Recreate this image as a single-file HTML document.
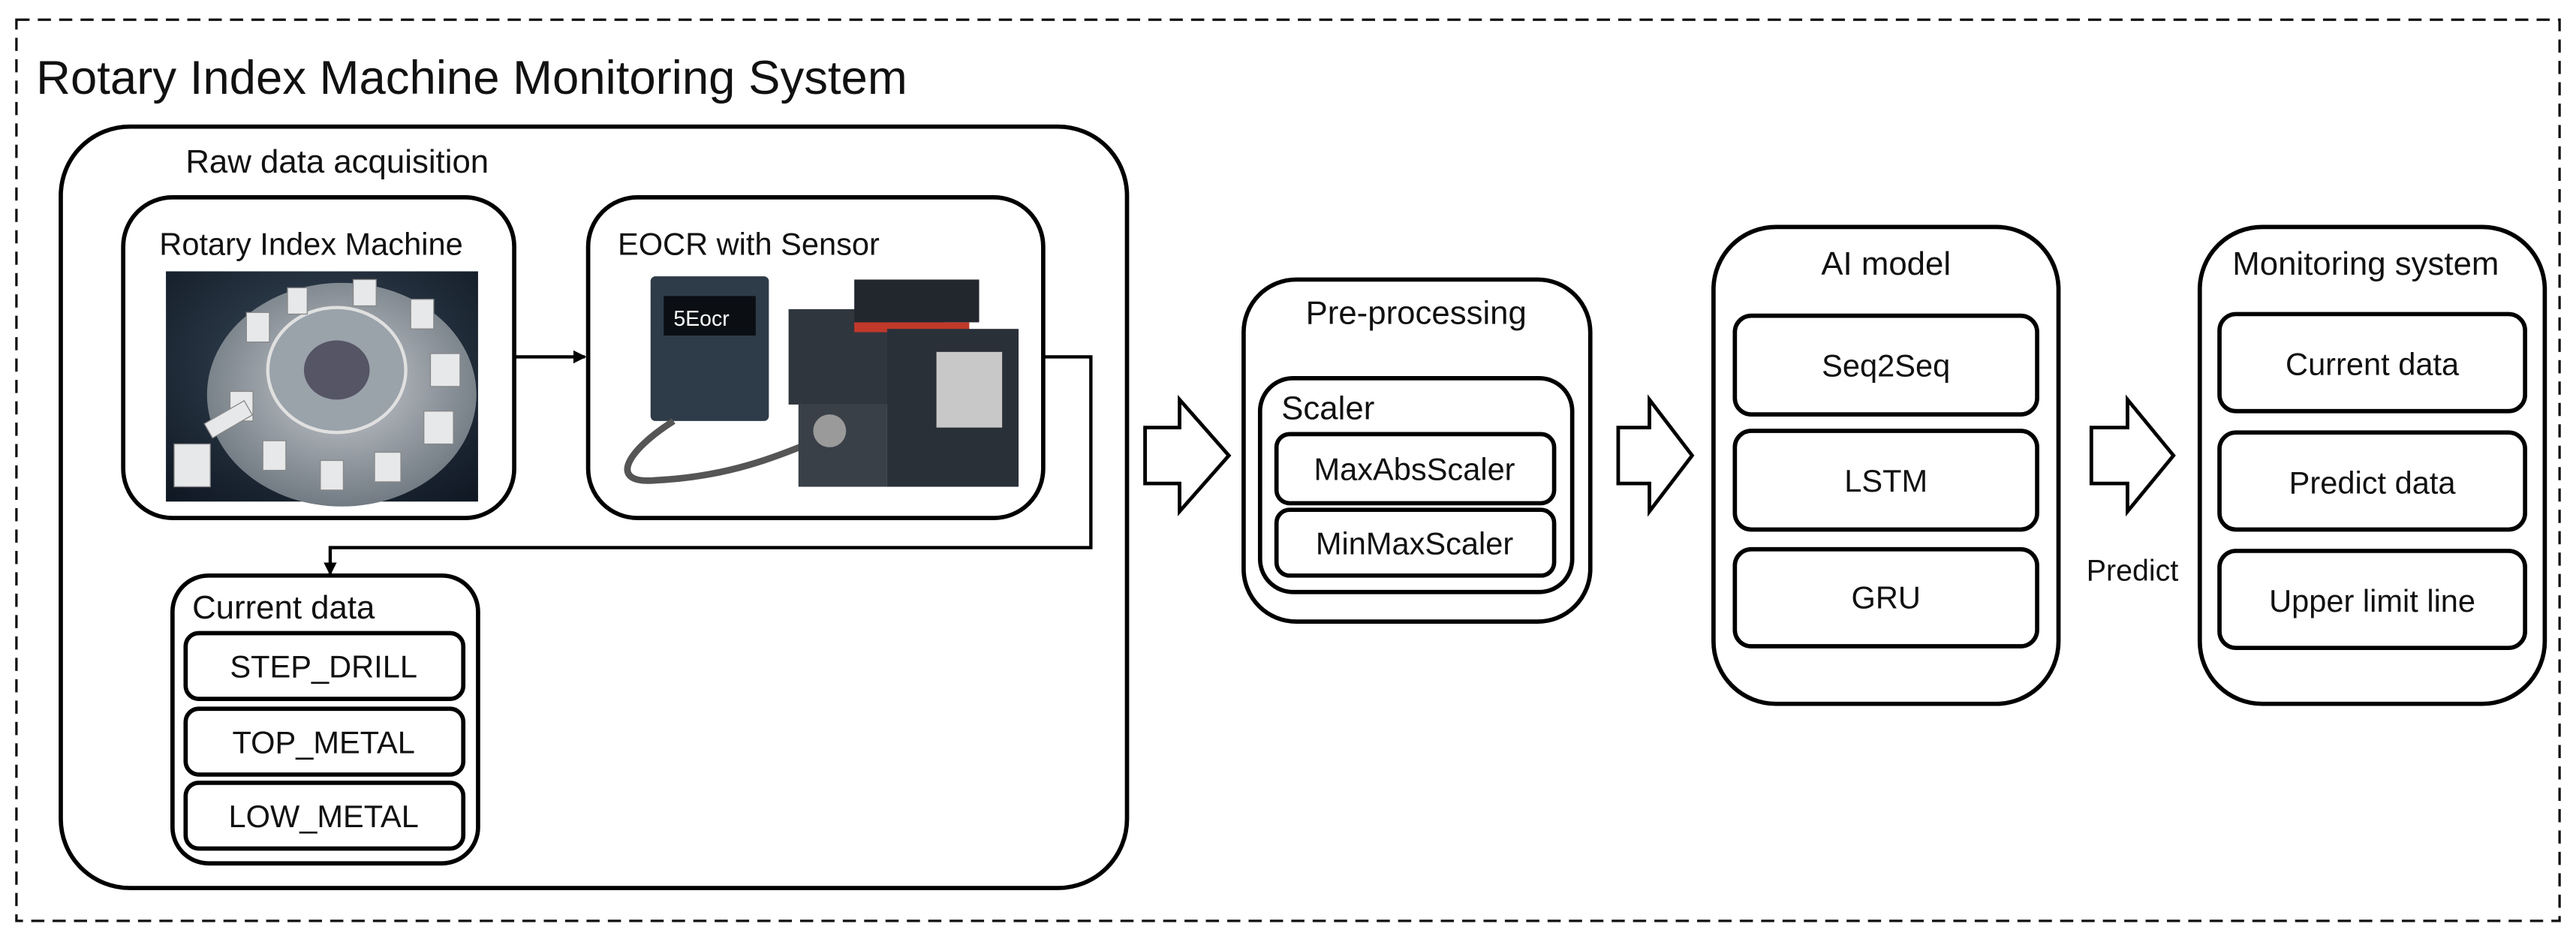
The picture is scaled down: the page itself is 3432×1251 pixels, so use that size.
<!DOCTYPE html>
<html><head><meta charset="utf-8"><style>
html,body{margin:0;padding:0;background:#fff;}
svg{display:block;}
text{font-family:"Liberation Sans",sans-serif;fill:#111;}
</style></head><body>
<svg width="3432" height="1251" viewBox="0 0 1568 571" preserveAspectRatio="none" xmlns="http://www.w3.org/2000/svg">
<defs>
<radialGradient id="bg" cx="0.5" cy="0.4" r="0.8"><stop offset="0" stop-color="#3a4a5a"/><stop offset="1" stop-color="#0d1520"/></radialGradient>
<radialGradient id="tb" cx="0.5" cy="0.45" r="0.6"><stop offset="0" stop-color="#c8ccd0"/><stop offset="1" stop-color="#6a737c"/></radialGradient>
<marker id="ah" markerWidth="8" markerHeight="8" refX="7" refY="4" orient="auto" markerUnits="userSpaceOnUse"><path d="M0,0 L8,4 L0,8 z" fill="#000"/></marker>
</defs>
<rect x="10" y="12" width="1548" height="548" fill="none" stroke="#111" stroke-width="1.5" stroke-dasharray="8,5"/>
<text x="22" y="57" font-size="29">Rotary Index Machine Monitoring System</text>

<g fill="none" stroke="#000" stroke-width="2.6">
<rect x="37" y="77" width="649" height="463" rx="42"/>
<rect x="75" y="120" width="238" height="195" rx="30"/>
<rect x="358" y="120" width="277" height="195" rx="30"/>
<rect x="105" y="350" width="186" height="175" rx="22"/>
<rect x="113" y="385" width="169" height="40" rx="8"/>
<rect x="113" y="431" width="169" height="40" rx="8"/>
<rect x="113" y="476" width="169" height="40" rx="8"/>
<rect x="757" y="170" width="211" height="208" rx="32"/>
<rect x="767" y="230" width="190" height="130" rx="20"/>
<rect x="777" y="264" width="169" height="42" rx="8"/>
<rect x="777" y="310" width="169" height="40" rx="8"/>
<rect x="1043" y="138" width="210" height="290" rx="38"/>
<rect x="1056" y="192" width="184" height="60" rx="10"/>
<rect x="1056" y="262" width="184" height="60" rx="10"/>
<rect x="1056" y="334" width="184" height="59" rx="10"/>
<rect x="1339" y="138" width="210" height="290" rx="38"/>
<rect x="1351" y="191" width="186" height="59" rx="10"/>
<rect x="1351" y="263" width="186" height="59" rx="10"/>
<rect x="1351" y="335" width="186" height="59" rx="10"/>
<path d="M697,260 L718,260 L718,243 L748,277 L718,311 L718,294 L697,294 Z" stroke-width="2.2"/>
<path d="M985,260 L1004,260 L1004,243 L1030,277 L1004,311 L1004,294 L985,294 Z" stroke-width="2.2"/>
<path d="M1273,260 L1295,260 L1295,243 L1323,277 L1295,311 L1295,294 L1273,294 Z" stroke-width="2.2"/>
</g>
<g fill="none" stroke="#000" stroke-width="2">
<line x1="313" y1="217" x2="356" y2="217" marker-end="url(#ah)"/>
<polyline points="635,217 664,217 664,333 201,333 201,349" marker-end="url(#ah)"/>
</g>

<rect x="101" y="165" width="190" height="140" fill="url(#bg)"/>
<ellipse cx="208" cy="240" rx="82" ry="68" fill="url(#tb)"/>
<ellipse cx="205" cy="225" rx="42" ry="38" fill="#9aa2aa" stroke="#e0e0e0" stroke-width="2"/>
<ellipse cx="205" cy="225" rx="20" ry="18" fill="#556" />
<g fill="#e6e8ea" stroke="#888" stroke-width="0.6">
<rect x="150" y="190" width="14" height="18"/><rect x="175" y="175" width="12" height="16"/><rect x="215" y="170" width="14" height="16"/>
<rect x="250" y="182" width="14" height="18"/><rect x="262" y="215" width="18" height="20"/><rect x="258" y="250" width="18" height="20"/>
<rect x="228" y="275" width="16" height="18"/><rect x="195" y="280" width="14" height="18"/><rect x="160" y="268" width="14" height="18"/>
<rect x="140" y="238" width="14" height="18"/><rect x="106" y="270" width="22" height="26"/><rect x="125" y="250" width="28" height="10" transform="rotate(-30 139 255)"/>
</g>

<rect x="396" y="168" width="72" height="88" rx="3" fill="#2e3b48"/>
<rect x="404" y="180" width="56" height="24" fill="#0b0f14"/>
<text x="410" y="198" font-size="13" style="fill:#fff">5Eocr</text>
<path d="M410,256 C380,275 370,295 400,292 C440,290 470,280 510,262" fill="none" stroke="#555" stroke-width="4"/>
<rect x="480" y="188" width="95" height="58" fill="#30363e"/>
<rect x="520" y="170" width="76" height="26" fill="#22272e"/>
<rect x="520" y="196" width="70" height="6" fill="#c0392b"/>
<rect x="540" y="200" width="80" height="96" fill="#2a3038"/>
<rect x="486" y="246" width="54" height="50" fill="#3a4048"/>
<circle cx="505" cy="262" r="10" fill="#9a9a9a"/>
<rect x="570" y="214" width="40" height="46" fill="#c8c8c8"/>

<text x="113" y="105" font-size="20">Raw data acquisition</text>
<text x="97" y="155" font-size="19">Rotary Index Machine</text>
<text x="376" y="155" font-size="19">EOCR with Sensor</text>
<text x="117" y="376" font-size="20">Current data</text>
<g font-size="19" text-anchor="middle">
<text x="197" y="412">STEP_DRILL</text>
<text x="197" y="458">TOP_METAL</text>
<text x="197" y="503">LOW_METAL</text>
<text x="862" y="197" font-size="20">Pre-processing</text>
<text x="861" y="292">MaxAbsScaler</text>
<text x="861" y="337">MinMaxScaler</text>
<text x="1148" y="167" font-size="20">AI model</text>
<text x="1148" y="229">Seq2Seq</text>
<text x="1148" y="299">LSTM</text>
<text x="1148" y="370">GRU</text>
<text x="1440" y="167" font-size="20">Monitoring system</text>
<text x="1444" y="228">Current data</text>
<text x="1444" y="300">Predict data</text>
<text x="1444" y="372">Upper limit line</text>
<text x="1298" y="353" font-size="18">Predict</text>
</g>
<text x="780" y="255" font-size="20">Scaler</text>
</svg>
</body></html>
